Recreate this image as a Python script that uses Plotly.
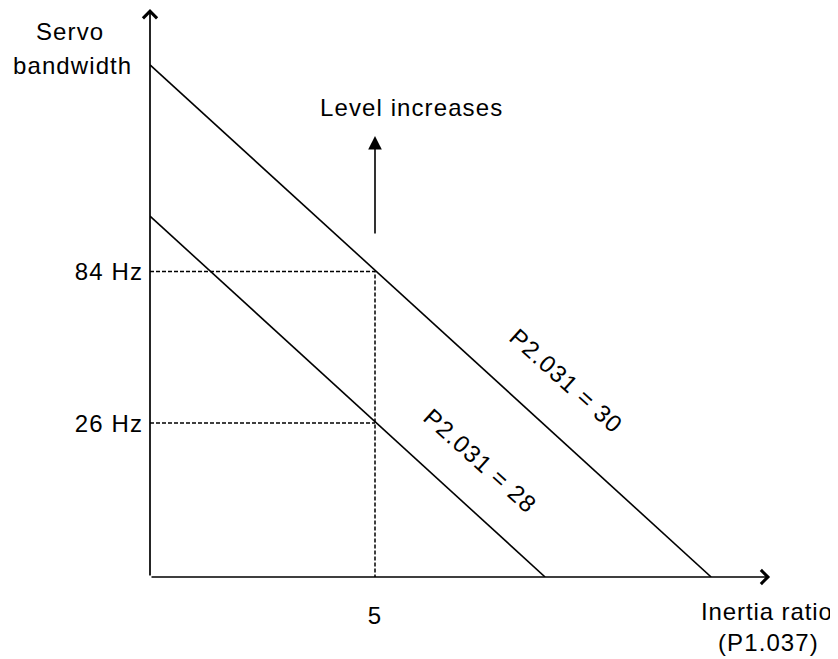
import plotly.graph_objects as go

# ---- data (schematic units) ----
inertia_30 = [0, 12.47]
bandwidth_30 = [11.38, 0]
inertia_28 = [0, 8.78]
bandwidth_28 = [8.02, 0]
series_names = ["P2.031 = 30", "P2.031 = 28"]

inertia_mark = [5]
inertia_mark_labels = ["5"]
level_positions = [6.79, 3.42]
level_labels = ["84 Hz", "26 Hz"]

FONT = "Liberation Sans, Arial, sans-serif"
FS = 24
LS = "letter-spacing:1.1px"


def sp(t, ls=LS):
    return f'<span style="{ls}">{t}</span>'


# page body has an 8px margin: figure is drawn from window pixel (8, 8)
OFF = 8
FIG_W, FIG_H = 838 - OFF, 659 - OFF
AX_L, AX_T, AX_R, AX_B = 150, 8, 780, 577   # window pixels of plot area
W, H = AX_R - AX_L, AX_B - AX_T
UNIT = 45.0

fig = go.Figure()

# dashed guide lines
fig.add_trace(go.Scatter(
    x=[0, inertia_mark[0], inertia_mark[0]],
    y=[level_positions[0], level_positions[0], 0],
    mode="lines", line=dict(color="black", width=1.5, dash="4px,2px"),
    hoverinfo="skip", showlegend=False))
fig.add_trace(go.Scatter(
    x=[0, inertia_mark[0]],
    y=[level_positions[1], level_positions[1]],
    mode="lines", line=dict(color="black", width=1.5, dash="4px,2px"),
    hoverinfo="skip", showlegend=False))

# bandwidth lines
fig.add_trace(go.Scatter(x=inertia_30, y=bandwidth_30, mode="lines",
                         line=dict(color="black", width=1.6),
                         name=series_names[0], showlegend=False))
fig.add_trace(go.Scatter(x=inertia_28, y=bandwidth_28, mode="lines",
                         line=dict(color="black", width=1.6),
                         name=series_names[1], showlegend=False))

annotations = []
# axes with open arrowheads
annotations.append(dict(x=0, y=12.62, ax=0, ay=0, xref="x", yref="y",
                        axref="x", ayref="y", showarrow=True, arrowhead=4,
                        arrowsize=1.6, arrowwidth=1.7, arrowcolor="black", text=""))
annotations.append(dict(x=13.78, y=0, ax=0, ay=0, xref="x", yref="y",
                        axref="x", ayref="y", showarrow=True, arrowhead=4,
                        arrowsize=1.6, arrowwidth=1.7, arrowcolor="black", text=""))
# level increases arrow
annotations.append(dict(x=5, y=9.8, ax=5, ay=7.6, xref="x", yref="y",
                        axref="x", ayref="y", showarrow=True, arrowhead=2,
                        arrowsize=1.7, arrowwidth=1.6, arrowcolor="black", text=""))
annotations.append(dict(x=5.8, y=10.44, xref="x", yref="y", showarrow=False,
                        text=sp("Level increases"), xanchor="center", yanchor="middle",
                        font=dict(family=FONT, size=FS, color="black")))
# rotated series labels
annotations.append(dict(x=9.24, y=4.36, xref="x", yref="y", showarrow=False,
                        text=sp(series_names[0]), textangle=42,
                        xanchor="center", yanchor="middle",
                        font=dict(family=FONT, size=FS, color="black")))
annotations.append(dict(x=7.33, y=2.58, xref="x", yref="y", showarrow=False,
                        text=sp(series_names[1]), textangle=42,
                        xanchor="center", yanchor="middle",
                        font=dict(family=FONT, size=FS, color="black")))


def px2paper(px, py):
    return (px - AX_L) / W, (AX_B - py) / H


for txt, (px, py), ls in [("Servo", (70, 31), LS), ("bandwidth", (72, 65), LS),
                          ("Inertia ratio", (767, 612), "letter-spacing:0.9px"),
                          ("(P1.037)", (768, 642), LS)]:
    xp, yp = px2paper(px, py)
    annotations.append(dict(x=xp, y=yp, xref="paper", yref="paper", showarrow=False,
                            text=sp(txt, ls), xanchor="center", yanchor="middle",
                            font=dict(family=FONT, size=FS, color="black")))

fig.update_layout(
    width=FIG_W, height=FIG_H,
    margin=dict(l=AX_L - OFF, r=FIG_W - (AX_R - OFF), t=AX_T - OFF,
                b=FIG_H - (AX_B - OFF), pad=0),
    paper_bgcolor="white", plot_bgcolor="white",
    showlegend=False,
    annotations=annotations,
    xaxis=dict(range=[0, W / UNIT], showgrid=False, zeroline=False, showline=False,
               tickmode="array", tickvals=inertia_mark,
               ticktext=[sp(t) for t in inertia_mark_labels],
               ticks="", ticklabelstandoff=22,
               tickfont=dict(family=FONT, size=FS, color="black")),
    yaxis=dict(range=[0, H / UNIT], showgrid=False, zeroline=False, showline=False,
               tickmode="array", tickvals=level_positions,
               ticktext=[sp(t) for t in level_labels],
               ticks="", ticklabelstandoff=6,
               tickfont=dict(family=FONT, size=FS, color="black")),
)

fig.write_html("out.html")
